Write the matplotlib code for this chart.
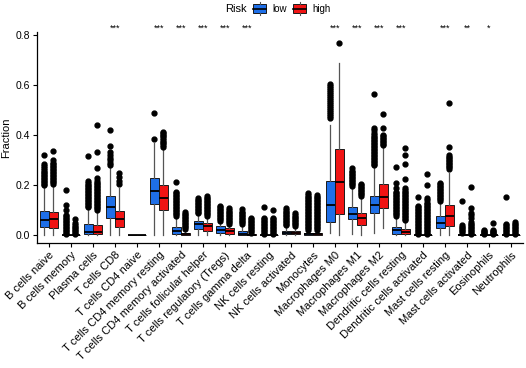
import matplotlib
matplotlib.use('Agg')
import matplotlib.pyplot as plt
from matplotlib.patches import Rectangle
from matplotlib.lines import Line2D

plt.rcParams['font.family'] = ['Liberation Sans', 'DejaVu Sans']

cells = ["B cells naive", "B cells memory", "Plasma cells", "T cells CD8",
         "T cells CD4 naive", "T cells CD4 memory resting",
         "T cells CD4 memory activated", "T cells follicular helper",
         "T cells regulatory (Tregs)", "T cells gamma delta", "NK cells resting",
         "NK cells activated", "Monocytes", "Macrophages M0", "Macrophages M1",
         "Macrophages M2", "Dendritic cells resting", "Dendritic cells activated",
         "Mast cells resting", "Mast cells activated", "Eosinophils", "Neutrophils"]

# [whislo, q1, median, q3, whishi]
low_box = [
    [0.0, 0.033, 0.060, 0.097, 0.190],
    [0.0, 0.0, 0.0, 0.0, 0.0],
    [0.0, 0.003, 0.013, 0.045, 0.105],
    [0.0, 0.068, 0.113, 0.158, 0.270],
    [0.0, 0.0, 0.0, 0.0, 0.0],
    [0.0, 0.124, 0.176, 0.227, 0.370],
    [0.0, 0.003, 0.018, 0.033, 0.070],
    [0.0, 0.024, 0.043, 0.058, 0.080],
    [0.0, 0.009, 0.022, 0.035, 0.050],
    [0.0, 0.0, 0.004, 0.016, 0.040],
    [0.0, 0.0, 0.0, 0.0, 0.0],
    [0.0, 0.003, 0.010, 0.016, 0.035],
    [0.0, 0.0, 0.003, 0.007, 0.017],
    [0.007, 0.053, 0.120, 0.217, 0.440],
    [0.003, 0.066, 0.085, 0.112, 0.190],
    [0.010, 0.087, 0.120, 0.157, 0.270],
    [0.0, 0.005, 0.020, 0.033, 0.070],
    [0.0, 0.0, 0.0, 0.0, 0.0],
    [0.0, 0.030, 0.050, 0.077, 0.130],
    [0.0, 0.0, 0.0, 0.003, 0.007],
    [0.0, 0.0, 0.0, 0.0, 0.0],
    [0.0, 0.0, 0.0, 0.0, 0.0],
]

high_box = [
    [0.0, 0.030, 0.063, 0.094, 0.195],
    [0.0, 0.0, 0.0, 0.0, 0.0],
    [0.0, 0.003, 0.013, 0.042, 0.095],
    [0.0, 0.032, 0.063, 0.097, 0.190],
    [0.0, 0.0, 0.0, 0.0, 0.0],
    [0.0, 0.100, 0.147, 0.200, 0.345],
    [0.0, 0.0, 0.003, 0.008, 0.020],
    [0.0, 0.016, 0.035, 0.049, 0.070],
    [0.0, 0.005, 0.018, 0.027, 0.040],
    [0.0, 0.0, 0.0, 0.003, 0.007],
    [0.0, 0.0, 0.0, 0.0, 0.0],
    [0.0, 0.003, 0.010, 0.015, 0.033],
    [0.0, 0.0, 0.003, 0.007, 0.017],
    [0.0, 0.083, 0.213, 0.344, 0.687],
    [0.0, 0.040, 0.070, 0.087, 0.150],
    [0.030, 0.107, 0.151, 0.204, 0.350],
    [0.0, 0.003, 0.013, 0.024, 0.055],
    [0.0, 0.0, 0.0, 0.0, 0.0],
    [0.0, 0.036, 0.076, 0.120, 0.250],
    [0.0, 0.0, 0.0, 0.0, 0.0],
    [0.0, 0.0, 0.0, 0.0, 0.0],
    [0.0, 0.0, 0.0, 0.0, 0.0],
]

low_fliers = [
    [0.200, 0.206, 0.212, 0.218, 0.224, 0.230, 0.236, 0.242, 0.248, 0.254, 0.260, 0.268, 0.276, 0.285, 0.320],
    [0.004, 0.010, 0.016, 0.022, 0.028, 0.034, 0.040, 0.046, 0.052, 0.058, 0.064, 0.070, 0.076, 0.082, 0.100, 0.120, 0.180],
    [0.112, 0.118, 0.124, 0.130, 0.136, 0.142, 0.148, 0.154, 0.160, 0.166, 0.172, 0.178, 0.184, 0.190, 0.196, 0.202, 0.208, 0.215, 0.315],
    [0.280, 0.290, 0.300, 0.310, 0.320, 0.333, 0.356, 0.420],
    [],
    [0.383, 0.490],
    [0.077, 0.083, 0.089, 0.095, 0.101, 0.107, 0.113, 0.119, 0.125, 0.131, 0.137, 0.143, 0.149, 0.155, 0.161, 0.167, 0.173, 0.213],
    [0.087, 0.093, 0.099, 0.105, 0.111, 0.117, 0.123, 0.129, 0.135, 0.141, 0.147],
    [0.057, 0.063, 0.069, 0.075, 0.081, 0.087, 0.093, 0.099, 0.105, 0.111, 0.118],
    [0.045, 0.051, 0.057, 0.063, 0.069, 0.075, 0.081, 0.087, 0.093, 0.103],
    [0.004, 0.010, 0.016, 0.022, 0.028, 0.034, 0.040, 0.046, 0.052, 0.058, 0.064, 0.070, 0.113],
    [0.040, 0.046, 0.052, 0.058, 0.064, 0.070, 0.076, 0.082, 0.088, 0.094, 0.100, 0.110],
    [0.022, 0.028, 0.034, 0.040, 0.046, 0.052, 0.058, 0.064, 0.070, 0.076, 0.082, 0.088, 0.094, 0.100, 0.106, 0.112, 0.118, 0.124, 0.130, 0.136, 0.142, 0.148, 0.154, 0.160, 0.168],
    [0.467, 0.475, 0.483, 0.491, 0.499, 0.507, 0.515, 0.523, 0.531, 0.539, 0.547, 0.555, 0.563, 0.571, 0.579, 0.587, 0.595, 0.603],
    [0.198, 0.204, 0.210, 0.216, 0.222, 0.228, 0.234, 0.240, 0.246, 0.252, 0.258, 0.268],
    [0.280, 0.286, 0.292, 0.298, 0.304, 0.310, 0.316, 0.322, 0.328, 0.334, 0.340, 0.346, 0.352, 0.358, 0.364, 0.370, 0.376, 0.382, 0.388, 0.394, 0.400, 0.410, 0.420, 0.428, 0.564],
    [0.077, 0.083, 0.089, 0.095, 0.101, 0.107, 0.113, 0.119, 0.125, 0.131, 0.137, 0.143, 0.149, 0.155, 0.161, 0.167, 0.173, 0.190, 0.207, 0.271],
    [0.004, 0.010, 0.016, 0.022, 0.028, 0.034, 0.040, 0.046, 0.052, 0.058, 0.064, 0.070, 0.076, 0.082, 0.088, 0.094, 0.100, 0.106, 0.112, 0.118, 0.151],
    [0.138, 0.144, 0.150, 0.156, 0.162, 0.168, 0.174, 0.180, 0.186, 0.192, 0.198, 0.204, 0.210],
    [0.010, 0.016, 0.022, 0.028, 0.034, 0.040, 0.135],
    [0.003, 0.008, 0.013, 0.018, 0.022],
    [0.004, 0.010, 0.016, 0.022, 0.028, 0.034, 0.040, 0.046, 0.153],
]

high_fliers = [
    [0.205, 0.211, 0.217, 0.223, 0.229, 0.235, 0.241, 0.247, 0.253, 0.259, 0.265, 0.271, 0.277, 0.283, 0.290, 0.300, 0.335],
    [0.004, 0.010, 0.016, 0.022, 0.028, 0.034, 0.040, 0.047, 0.063],
    [0.102, 0.108, 0.114, 0.120, 0.126, 0.132, 0.138, 0.144, 0.150, 0.156, 0.162, 0.168, 0.174, 0.180, 0.186, 0.192, 0.198, 0.204, 0.210, 0.218, 0.230, 0.267, 0.333, 0.440],
    [0.205, 0.215, 0.233, 0.247],
    [],
    [0.353, 0.360, 0.367, 0.374, 0.381, 0.388, 0.395, 0.402, 0.408, 0.413],
    [0.025, 0.031, 0.037, 0.043, 0.049, 0.055, 0.061, 0.067, 0.073, 0.079, 0.085, 0.093],
    [0.078, 0.084, 0.090, 0.096, 0.102, 0.108, 0.114, 0.120, 0.126, 0.132, 0.138, 0.144, 0.150, 0.158],
    [0.045, 0.051, 0.057, 0.063, 0.069, 0.075, 0.081, 0.087, 0.093, 0.099, 0.107],
    [0.010, 0.016, 0.022, 0.028, 0.034, 0.040, 0.046, 0.052, 0.058, 0.064, 0.070],
    [0.004, 0.010, 0.016, 0.022, 0.028, 0.034, 0.040, 0.046, 0.052, 0.058, 0.064, 0.070, 0.100],
    [0.038, 0.044, 0.050, 0.056, 0.062, 0.068, 0.074, 0.080, 0.090],
    [0.022, 0.028, 0.034, 0.040, 0.046, 0.052, 0.058, 0.064, 0.070, 0.076, 0.082, 0.088, 0.094, 0.100, 0.106, 0.112, 0.118, 0.124, 0.130, 0.136, 0.142, 0.148, 0.154, 0.160],
    [0.770],
    [0.158, 0.164, 0.170, 0.176, 0.182, 0.188, 0.194, 0.200, 0.206],
    [0.360, 0.366, 0.372, 0.378, 0.384, 0.390, 0.396, 0.402, 0.430, 0.484],
    [0.060, 0.066, 0.072, 0.078, 0.084, 0.090, 0.096, 0.102, 0.108, 0.114, 0.120, 0.126, 0.132, 0.138, 0.144, 0.150, 0.156, 0.162, 0.168, 0.174, 0.180, 0.190, 0.224, 0.284, 0.320, 0.347],
    [0.004, 0.010, 0.016, 0.022, 0.028, 0.034, 0.040, 0.046, 0.052, 0.058, 0.064, 0.070, 0.076, 0.082, 0.088, 0.094, 0.100, 0.106, 0.112, 0.118, 0.124, 0.130, 0.140, 0.150, 0.200, 0.243],
    [0.265, 0.271, 0.277, 0.283, 0.289, 0.295, 0.301, 0.307, 0.313, 0.320, 0.353, 0.529],
    [0.004, 0.010, 0.016, 0.022, 0.028, 0.034, 0.040, 0.046, 0.052, 0.068, 0.080, 0.087, 0.107, 0.193],
    [0.003, 0.008, 0.013, 0.018, 0.022, 0.049],
    [0.004, 0.010, 0.016, 0.022, 0.028, 0.034, 0.040, 0.046, 0.052],
]

stars = ["", "", "", "***", "", "***", "***", "***", "***", "***", "", "",
         "", "***", "***", "***", "***", "", "***", "**", "*", ""]

group_names = ["low", "high"]
group_colors = ["#1E6FE8", "#F01414"]

W, H = 526, 368
fig = plt.figure(figsize=(W / 100, H / 100), dpi=100)
ax = fig.add_axes([37 / W, 1 - 243 / H, (523 - 37) / W, (243 - 32) / H])


def make_stats(boxes, fliers):
    out = []
    for b, f in zip(boxes, fliers):
        out.append(dict(whislo=b[0], q1=b[1], med=b[2], q3=b[3], whishi=b[4], fliers=f))
    return out


offset = 0.205
for gi, (boxes, fliers) in enumerate([(low_box, low_fliers), (high_box, high_fliers)]):
    pos = [i + (-offset if gi == 0 else offset) for i in range(len(cells))]
    ax.bxp(make_stats(boxes, fliers), positions=pos, widths=0.40, patch_artist=True,
           showcaps=False,
           boxprops=dict(facecolor=group_colors[gi], edgecolor='#1a1a1a', linewidth=0.7),
           medianprops=dict(color='black', linewidth=1.3),
           whiskerprops=dict(color='#555555', linewidth=0.9),
           flierprops=dict(marker='o', markerfacecolor='black', markeredgecolor='black',
                           markersize=3.5, linestyle='none'),
           manage_ticks=False)

for i, s in enumerate(stars):
    if s:
        ax.text(i, 0.826, s, ha='center', va='center', fontsize=6.5, clip_on=False)

ax.set_xlim(-0.545, 21.55)
ax.set_ylim(-0.032, 0.812)
ax.set_yticks([0.0, 0.2, 0.4, 0.6, 0.8])
ax.set_yticklabels(["0.0", "0.2", "0.4", "0.6", "0.8"], fontsize=7.5)
ax.set_xticks(range(len(cells)))
ax.set_xticklabels(cells, rotation=45, ha='right', va='top', rotation_mode='anchor', fontsize=8)
ax.tick_params(axis='both', direction='out', length=3, width=0.8, color='black', pad=2)
for sp in ['top', 'right']:
    ax.spines[sp].set_visible(False)
for sp in ['left', 'bottom']:
    ax.spines[sp].set_linewidth(0.9)
ax.set_ylabel("Fraction", fontsize=8, labelpad=3)

# legend
fig.text(225 / W, 1 - 9 / H, "Risk", fontsize=8, ha='left', va='center')
key_x = [253, 293]
lab_x = [272, 312]
for k in range(2):
    x0 = key_x[k]
    rect = Rectangle((x0 / W, 1 - 13 / H), 13 / W, 9 / H, transform=fig.transFigure,
                     facecolor=group_colors[k], edgecolor='#1a1a1a', linewidth=0.7)
    fig.add_artist(rect)
    fig.add_artist(Line2D([x0 / W, (x0 + 13) / W], [1 - 8.5 / H, 1 - 8.5 / H],
                          transform=fig.transFigure, color='black', linewidth=1.2))
    fig.add_artist(Line2D([(x0 + 6.5) / W] * 2, [1 - 2 / H, 1 - 4 / H],
                          transform=fig.transFigure, color='#555555', linewidth=0.8))
    fig.add_artist(Line2D([(x0 + 6.5) / W] * 2, [1 - 13 / H, 1 - 15 / H],
                          transform=fig.transFigure, color='#555555', linewidth=0.8))
    fig.text(lab_x[k] / W, 1 - 9 / H, group_names[k], fontsize=7, ha='left', va='center')

fig.savefig("out.png", dpi=100)
